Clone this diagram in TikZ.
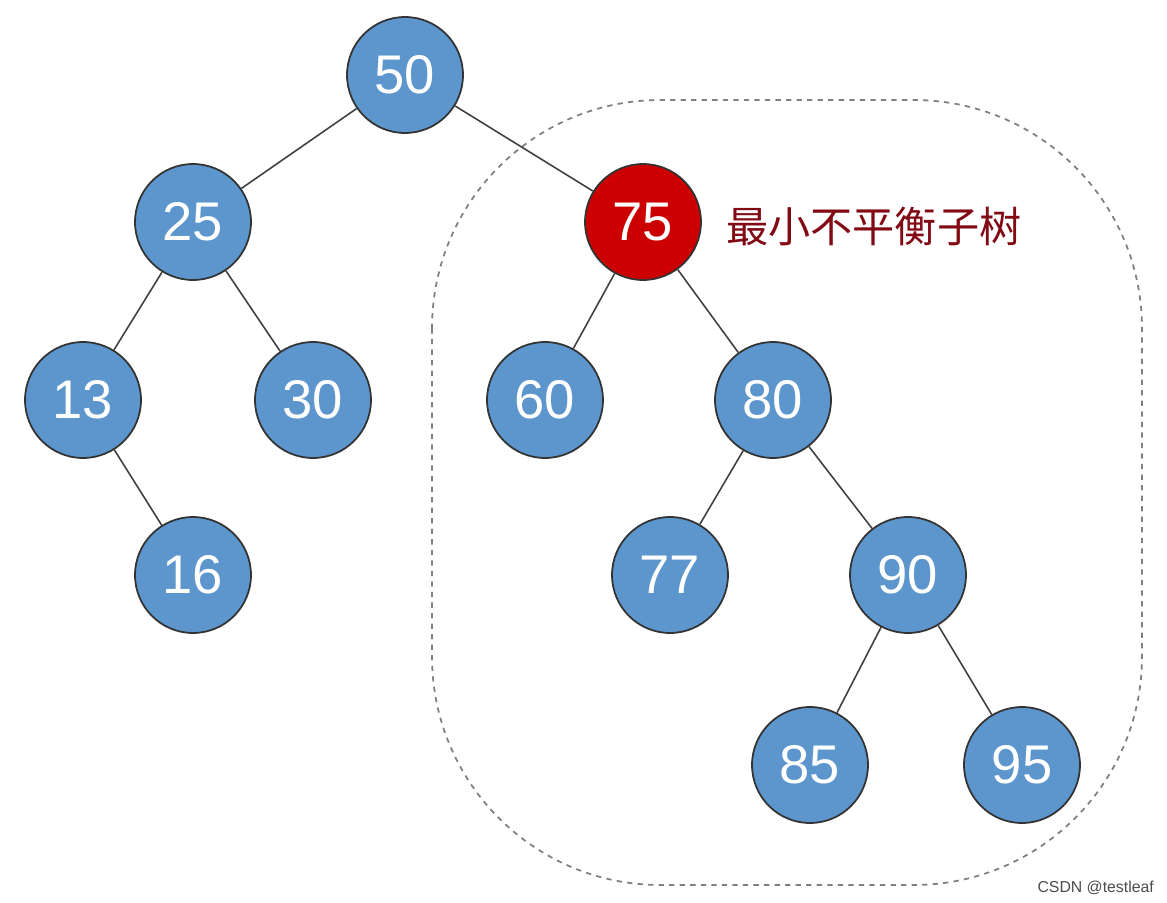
\documentclass[tikz,border=0pt]{standalone}
\usepackage{fontspec}
\setmainfont{Liberation Sans}
\newfontfamily\cjk{Noto Sans CJK SC}
\definecolor{nodeblue}{RGB}{92,150,205}
\definecolor{nodered}{RGB}{204,0,0}
\definecolor{labelred}{RGB}{130,10,20}
\begin{document}
\begin{tikzpicture}[x=0.02cm,y=-0.02cm]
        \tikzstyle{blue node}=[circle,draw=black!80,line width=1pt,fill=nodeblue,minimum size=2.32cm,inner sep=0,text=white,font=\fontsize{31}{31}\selectfont]
        \tikzstyle{red node}=[blue node,fill=nodered]
        \tikzstyle{tree edge}=[draw=black!75,line width=0.9pt]

        \useasboundingbox (0,0) rectangle (1167,903);
        \draw[gray,dashed,line width=1pt,rounded corners=130] (432,100) rectangle (1142,885);

        \node(50)[blue node] at (405,75){50};
        \node(25)[blue node] at (193,222){25};
        \node(75)[red node] at (643,222){75};
        \node(13)[blue node] at (83,400){13};
        \node(30)[blue node] at (313,400){30};
        \node(60)[blue node] at (545,400){60};
        \node(80)[blue node] at (773,400){80};
        \node(16)[blue node] at (193,575){16};
        \node(77)[blue node] at (670,575){77};
        \node(90)[blue node] at (908,575){90};
        \node(85)[blue node] at (810,765){85};
        \node(95)[blue node] at (1022,765){95};

        \node(label)[anchor=west,text=labelred,font=\cjk\fontsize{24}{24}\selectfont] at (720,226){最小不平衡子树};
        \node(mark)[anchor=east,text=black!70,font=\fontsize{9}{9}\selectfont] at (1160,888){CSDN @testleaf};

        \foreach \a/\b in {50/25,50/75,25/13,25/30,13/16,75/60,75/80,80/77,80/90,90/85,90/95}
        \path[tree edge] (\a) -- (\b);
    \end{tikzpicture}
\end{document}
